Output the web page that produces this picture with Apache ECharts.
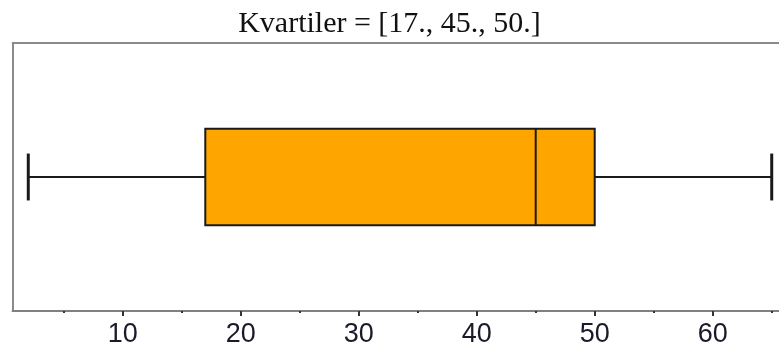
<!DOCTYPE html>
<html>
<head>
<meta charset="utf-8">
<script src="https://cdn.jsdelivr.net/npm/echarts@6/dist/echarts.min.js"></script>
<style>html,body{margin:0;padding:0;background:#fff}#c{width:779px;height:349px}</style>
</head>
<body>
<div id="c"></div>
<script>
const titleText = 'Kvartiler = [17., 45., 50.]';
const categories = ['data'];
const boxStats = [[2, 17, 45, 50, 65]]; // min, Q1, median, Q3, max
const majorTicks = [10, 20, 30, 40, 50, 60];
const minorTicks = [5, 15, 25, 35, 45, 55, 65];
const axisMin = 0.68, axisMax = 66.32;

const chart = echarts.init(document.getElementById('c'));
const axisBase = {
  type: 'value', min: axisMin, max: axisMax, position: 'bottom',
  splitLine: {show: false},
  axisLine: {show: true, lineStyle: {color: '#808080', width: 2}}
};
chart.setOption({
  animation: false,
  title: {text: titleText, left: 'center', top: 4,
    textStyle: {fontFamily: 'Liberation Serif', fontSize: 30, fontWeight: 'normal', color: '#111'}},
  grid: {left: 12.7, right: -8.3, top: 43, bottom: 38, show: false,
    outerBoundsMode: 'none', containLabel: false},
  xAxis: [
    Object.assign({}, axisBase, {
      axisTick: {show: true, length: 5, customValues: majorTicks, lineStyle: {color: '#333', width: 2}},
      axisLabel: {show: true, customValues: majorTicks, margin: 10, fontFamily: 'Liberation Sans', fontSize: 27, color: '#1a1a2a'}
    }),
    Object.assign({}, axisBase, {
      axisTick: {show: true, length: 2, customValues: minorTicks, lineStyle: {color: '#333', width: 2}},
      axisLabel: {show: false}
    }),
    Object.assign({}, axisBase, {
      position: 'top',
      axisLine: {show: true, lineStyle: {color: '#8a8a8a', width: 2}},
      axisTick: {show: false}, axisLabel: {show: false}
    })
  ],
  yAxis: {type: 'category', data: categories, axisLine: {show: true, lineStyle: {color: '#8a8a8a', width: 2}},
    axisTick: {show: false}, axisLabel: {show: false}, splitLine: {show: false}},
  series: [{
    type: 'custom',
    data: boxStats.map((d, i) => [i].concat(d)),
    encode: {x: [1, 2, 3, 4, 5], y: 0},
    renderItem: function (params, api) {
      const cat = api.value(0);
      const band = api.size([0, 1])[1];
      const pMin = api.coord([api.value(1), cat]);
      const pQ1 = api.coord([api.value(2), cat]);
      const pMed = api.coord([api.value(3), cat]);
      const pQ3 = api.coord([api.value(4), cat]);
      const pMax = api.coord([api.value(5), cat]);
      const y = pMin[1];
      const bh = band * 0.36;
      const ch = band * 0.175;
      const stroke = {stroke: '#1a1a1a', lineWidth: 2};
      return {
        type: 'group',
        children: [
          {type: 'line', shape: {x1: pMin[0], y1: y, x2: pQ1[0], y2: y}, style: stroke},
          {type: 'line', shape: {x1: pQ3[0], y1: y, x2: pMax[0], y2: y}, style: stroke},
          {type: 'line', shape: {x1: pMin[0], y1: y - ch / 2, x2: pMin[0], y2: y + ch / 2}, style: {stroke: '#1a1a1a', lineWidth: 3}},
          {type: 'line', shape: {x1: pMax[0], y1: y - ch / 2, x2: pMax[0], y2: y + ch / 2}, style: {stroke: '#1a1a1a', lineWidth: 3}},
          {type: 'rect', shape: {x: pQ1[0], y: y - bh / 2, width: pQ3[0] - pQ1[0], height: bh},
            style: {fill: '#FFA500', stroke: '#1a1a1a', lineWidth: 2}},
          {type: 'line', shape: {x1: pMed[0], y1: y - bh / 2, x2: pMed[0], y2: y + bh / 2}, style: stroke}
        ]
      };
    }
  }]
});
</script>
</body>
</html>
